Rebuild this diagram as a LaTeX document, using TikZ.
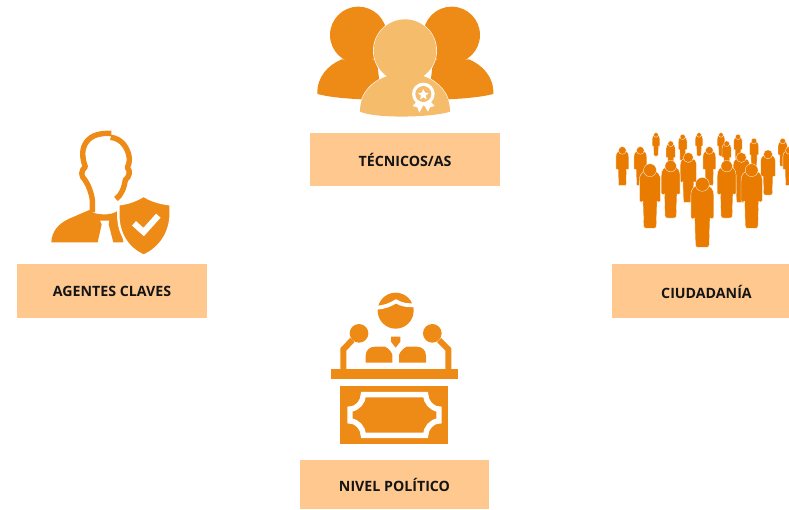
\documentclass[tikz,border=0pt]{standalone}
\usepackage{fontspec}
\setmainfont{Open Sans}
\definecolor{iconor}{HTML}{EE8A16}
\definecolor{crowdor}{HTML}{E87B00}
\definecolor{lightor}{HTML}{F5BC6C}
\definecolor{boxor}{HTML}{FFC88E}
\tikzset{
  labelbox/.style={fill=boxor,draw=none,anchor=north west,inner sep=0pt,outer sep=0pt,
     font=\bfseries\fontsize{14.2}{16}\selectfont,text=black!92},
  zoomed/.style={scale=1/3},
}
\newcommand{\crowdperson}[3]{%
  \begin{scope}[shift={(#1,#2)},scale=#3/100]
    \fill[crowdor,draw=white,line width=0.35pt]
      (-16.5,26) .. controls (-16.5,15) and (-11,11.5) .. (-6,11) -- (6,11)
      .. controls (11,11.5) and (16.5,15) .. (16.5,26) -- (16.5,57) .. controls (16.5,60) and (12,60) .. (11,58)
      -- (10,96) .. controls (10,100) and (8,100) .. (5,100) -- (-5,100) .. controls (-8,100) and (-10,100) .. (-10,96)
      -- (-11,58) .. controls (-12,60) and (-16.5,60) .. (-16.5,57) -- cycle;
    \fill[crowdor,draw=white,line width=0.3pt] (0,9.6) circle (10);
  \end{scope}}
\begin{document}
\begin{tikzpicture}[x=1pt,y=-1pt]
\useasboundingbox (0,0) rectangle (789,509);
% label boxes
\node[labelbox,minimum width=190pt,minimum height=53pt,align=center] (tec) at (310,133) {TÉCNICOS/AS};
\node[labelbox,minimum width=190pt,minimum height=54pt,align=center] (age) at (17,264.3) {AGENTES CLAVES};
\node[labelbox,minimum width=189pt,minimum height=49pt,align=center] (niv) at (300,460) {NIVEL POLÍTICO};
\fill[boxor] (611.7,264.3) rectangle (789,318);
\node[font=\bfseries\fontsize{14.2}{16}\selectfont,text=black!92,inner sep=0pt] (ciu) at (706.5,291.5) {CIUDADANÍA};
% tecnicos icon
\begin{scope}[shift={(300,0)},zoomed]
  \fill[iconor] (175,105) circle (85);
  \fill[iconor] (455,105) circle (85);
  \fill[iconor] (52,282) .. controls (50,230) and (85,195) .. (125,178) -- (230,178) -- (245,300) .. controls (150,298) and (90,292) .. (52,282) -- cycle;
  \fill[iconor] (580,282) .. controls (582,230) and (547,195) .. (507,178) -- (400,178) -- (385,300) .. controls (480,298) and (540,292) .. (580,282) -- cycle;
  % white halo, then front figure with no seam
  \draw[white,line width=1.2pt] (180,335) .. controls (180,280) and (215,245) .. (262,228) -- (370,228) .. controls (415,245) and (450,280) .. (450,335) .. controls (400,352) and (230,357) .. (180,335) -- cycle;
  \draw[white,line width=1.2pt] (315,152) circle (94);
  \fill[lightor] (180,335) .. controls (180,280) and (215,245) .. (262,228) -- (370,228) .. controls (415,245) and (450,280) .. (450,335) .. controls (400,352) and (230,357) .. (180,335) -- cycle;
  \fill[lightor] (315,152) circle (94);
  \fill[white] (350,305) -- (338,318) -- (352,322) -- (358,338) -- (372,312) -- cycle;
  \fill[white] (392,305) -- (404,318) -- (390,322) -- (384,335) -- (370,312) -- cycle;
  \fill[white] (370,282) circle (34);
  \fill[lightor] (370,282) circle (24);
  \fill[white] (370,267) -- (375,278) -- (386,279) -- (377,287) -- (380,298) -- (370,292) -- (360,298) -- (363,287) -- (354,279) -- (365,278) -- cycle;
\end{scope}
% agentes icon
\begin{scope}[shift={(50,125)},zoomed]
  \draw[iconor,line width=5.4pt,line join=round,line cap=butt]
    (127,262) -- (127,225) .. controls (125,205) and (115,180) .. (105,165)
    .. controls (92,155) and (92,135) .. (106,126)
    .. controls (95,95) and (95,70) .. (110,50)
    .. controls (125,30) and (150,24) .. (184,25);
  \draw[iconor,line width=5.4pt,line join=round,line cap=butt]
    (182,37) .. controls (215,40) and (235,70) .. (238,100)
    .. controls (238,112) and (236,120) .. (232,128)
    .. controls (243,138) and (238,155) .. (226,165)
    .. controls (222,190) and (214,210) .. (198,222);
  \fill[iconor] (4,352) .. controls (5,320) and (25,295) .. (60,280) -- (118,255)
    .. controls (125,270) and (190,275) .. (205,255) -- (220,352) -- (190,352) -- (176,298) -- (178,287) -- (150,287) -- (155,298) -- (143,352) -- cycle;
  \path[fill=iconor,draw=white,line width=2.4pt] (205,238) .. controls (235,235) and (260,225) .. (281,212)
    .. controls (300,225) and (330,235) .. (362,238)
    -- (362,270) .. controls (360,325) and (330,370) .. (281,392)
    .. controls (232,370) and (205,325) .. (205,270) -- cycle;
  \draw[white,line width=6pt,line join=miter] (252,295) -- (281,321) -- (325,272);
\end{scope}
% crowd icon
\begin{scope}
  \clip (600,120) rectangle (789,260);
  \begin{scope}[shift={(600,120)},zoomed]
    \crowdperson{168}{38}{70}
    \crowdperson{248}{43}{80}
    \crowdperson{297}{38}{70}
    \crowdperson{363}{38}{70}
    \crowdperson{414}{43}{80}
    \crowdperson{548}{55}{85}
    \crowdperson{462}{55}{85}
    \crowdperson{212}{63}{85}
    \crowdperson{380}{63}{85}
    \crowdperson{67}{80}{117}
    \crowdperson{121}{80}{117}
    \crowdperson{328}{80}{117}
    \crowdperson{568}{80}{117}
    \crowdperson{504}{90}{135}
    \crowdperson{265}{98}{150}
    \crowdperson{424}{98}{150}
    \crowdperson{212}{122}{172}
    \crowdperson{380}{122}{172}
    \crowdperson{150}{132}{193}
    \crowdperson{455}{132}{193}
    \crowdperson{307}{173}{209}
  \end{scope}
\end{scope}
% nivel politico icon
\begin{scope}[shift={(295,285)},zoomed]
  \fill[iconor] (302,77) circle (54);
  \draw[white,line width=3.8pt] (245,68) .. controls (270,66) and (285,60) .. (303,49) .. controls (320,60) and (340,62) .. (360,60);
  \fill[iconor] (288,155) -- (316,155) -- (316,170) -- (302,188) -- (288,170) -- cycle;
  \fill[iconor] (212,233) -- (212,212) .. controls (212,195) and (225,185) .. (240,185) -- (270,185) .. controls (280,190) and (290,200) .. (292,210) -- (292,233) -- cycle;
  \fill[iconor] (393,233) -- (393,212) .. controls (393,195) and (380,185) .. (365,185) -- (335,185) .. controls (325,190) and (315,200) .. (312,210) -- (312,233) -- cycle;
  \fill[iconor] (192,145) circle (28);
  \fill[iconor] (412,145) circle (28);
  \draw[iconor,line width=6pt,line join=miter] (172,165) -- (145,193) -- (145,256);
  \draw[iconor,line width=6pt,line join=miter] (432,165) -- (460,193) -- (460,256);
  \fill[iconor] (107,253) rectangle (488,283);
  \fill[iconor] (136,303) rectangle (460,477);
  \draw[white,line width=5.4pt,line join=miter]
    (205,329) -- (392,329) .. controls (392,350) and (410,372) .. (432,372)
    -- (432,408) .. controls (410,408) and (392,430) .. (392,451)
    -- (205,451) .. controls (205,430) and (187,408) .. (165,408)
    -- (165,372) .. controls (187,372) and (205,350) .. (205,329) -- cycle;
\end{scope}
\end{tikzpicture}
\end{document}
